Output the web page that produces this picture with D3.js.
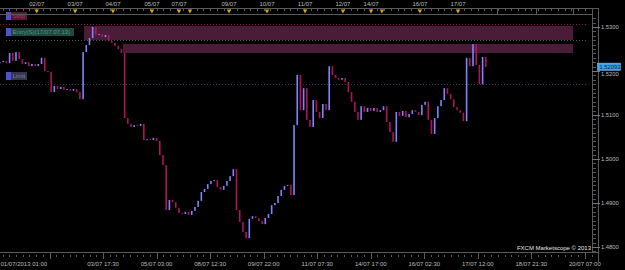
<!DOCTYPE html>
<html>
<head>
<meta charset="utf-8">
<script src="https://cdn.jsdelivr.net/npm/d3@7"></script>
<style>
	body { margin: 0; background: #000; }
	svg { display: block; }
	text { font-family: "Liberation Sans", Arial, sans-serif; }
</style>
</head>
<body>
<svg id="chart"></svg>
<script>
// 2 hour closes, starting 01/07/2013 01:00 (trading hours, weekends skipped)
const barHours = 2;
const closes = [
	1.5220, 1.5223, 1.5218, 1.5241, 1.5223, 1.5243, 1.5227, 1.5216, 1.5220, 1.5211,
	1.5216, 1.5211, 1.5216, 1.5230, 1.5200, 1.5198, 1.5152, 1.5166, 1.5159, 1.5164,
	1.5157, 1.5159, 1.5155, 1.5159, 1.5152, 1.5136, 1.5243, 1.5259, 1.5275, 1.5300,
	1.5282, 1.5284, 1.5277, 1.5282, 1.5268, 1.5264, 1.5257, 1.5250, 1.5241, 1.5093,
	1.5080, 1.5073, 1.5077, 1.5075, 1.5080, 1.5043, 1.5045, 1.5043, 1.5048, 1.5041,
	1.5009, 1.4986, 1.4884, 1.4907, 1.4902, 1.4889, 1.4877, 1.4875, 1.4880, 1.4873,
	1.4882, 1.4891, 1.4905, 1.4925, 1.4932, 1.4943, 1.4950, 1.4952, 1.4936, 1.4930,
	1.4939, 1.4950, 1.4961, 1.4977, 1.4884, 1.4857, 1.4834, 1.4820, 1.4864, 1.4870,
	1.4866, 1.4859, 1.4852, 1.4866, 1.4875, 1.4895, 1.4900, 1.4916, 1.4930, 1.4939,
	1.4941, 1.4918, 1.5077, 1.5191, 1.5111, 1.5161, 1.5089, 1.5073, 1.5134, 1.5107,
	1.5093, 1.5125, 1.5111, 1.5211, 1.5191, 1.5184, 1.5180, 1.5184, 1.5175, 1.5152,
	1.5130, 1.5107, 1.5089, 1.5120, 1.5107, 1.5116, 1.5109, 1.5116, 1.5107, 1.5111,
	1.5120, 1.5084, 1.5061, 1.5039, 1.5107, 1.5098, 1.5109, 1.5095, 1.5102, 1.5111,
	1.5107, 1.5100, 1.5123, 1.5130, 1.5089, 1.5057, 1.5093, 1.5120, 1.5134, 1.5161,
	1.5148, 1.5136, 1.5118, 1.5111, 1.5105, 1.5086, 1.5230, 1.5211, 1.5261, 1.5214,
	1.5170, 1.5232, 1.52093
];
const lastPrice = 1.52093;

const priceTicks = [1.48, 1.49, 1.50, 1.51, 1.52, 1.53];

const bottomLabels = ["01/07/2013 01:00", "03/07 17:30", "05/07 03:00", "08/07 12:30", "09/07 22:00",
	"11/07 07:30", "14/07 17:00", "16/07 02:30", "17/07 12:00", "18/07 21:30", "20/07 07:00"];
const bottomHours = [0, 64.5, 98, 131.5, 165, 198.5, 232, 265.5, 299, 332.5, 366];
const majorHours = [31, 64.5, 98, 131.5, 165, 198.5, 232, 265.5, 299, 332.5, 366];

const topLabels = ["02/07", "03/07", "04/07", "05/07", "07/07", "09/07", "10/07", "11/07", "12/07", "14/07", "16/07", "17/07"];
const topHours = [23, 47, 70.7, 95.1, 112, 143.3, 167.1, 190.9, 214.6, 232.2, 262.8, 286.6];
const eventHours = [118.9, 239];
const dayTickHours = [311, 335.4, 358.6];

// orders
const orderNames = ["Stop", "Entry(S)(17/07 07:13)", "Limit"];
const orderPrices = [1.53068, 1.52705, 1.51705];
const orderFill = ["#4e1a34", "#1d4a40", "#36364f"];
const orderText = ["#b8385a", "#55937a", "#8080a0"];
const orderLine = ["#8a1f32", "#2d6150", "#3c3c55"];
const orderBoxW = [16, 63, 16];

// shaded zones
const zoneStart = [52.6, 77];
const zoneEnd = 358.6;
const zoneHigh = [1.53023, 1.52614];
const zoneLow = [1.52705, 1.52409];

const W = 625, H = 270;
const plotR = 592, plotT = 14, plotB = 252;

const svg = d3.select("#chart").attr("width", W).attr("height", H);
svg.append("rect").attr("width", W).attr("height", H).attr("fill", "#000");

const x = d3.scaleLinear().domain([0, plotR / 1.598]).range([0, plotR]);
const y = d3.scaleLinear().domain([1.478864, 1.532955]).range([plotB, plotT]);

svg.append("clipPath").attr("id", "plotClip")
	.append("rect").attr("x", 0).attr("y", plotT).attr("width", plotR).attr("height", plotB - plotT);

const g = svg.append("g").attr("clip-path", "url(#plotClip)");

//zones
zoneStart.forEach((s, i) =>
{
	g.append("rect")
		.attr("x", x(s))
		.attr("y", y(zoneHigh[i]))
		.attr("width", x(zoneEnd) - x(s))
		.attr("height", y(zoneLow[i]) - y(zoneHigh[i]))
		.attr("fill", "#4b1c38");
});

//order lines
orderPrices.forEach((p, i) =>
{
	g.append("line")
		.attr("x1", i == 1 ? 6 : 0).attr("x2", 588)
		.attr("y1", Math.round(y(p)) + 0.5).attr("y2", Math.round(y(p)) + 0.5)
		.attr("stroke", orderLine[i])
		.attr("stroke-dasharray", "1,2");
});

//candles
closes.forEach((c, i) =>
{
	let o = i ? closes[i - 1] : c;
	let top = y(Math.max(o, c)), bot = y(Math.min(o, c));
	g.append("rect")
		.attr("x", x(i * barHours) - 0.8)
		.attr("y", top)
		.attr("width", 1.6)
		.attr("height", Math.max(1, bot - top))
		.attr("fill", c >= o ? "#8282ff" : "#b0125c");
});

//order labels
orderPrices.forEach((p, i) =>
{
	let by = Math.round(y(p)) - 12;
	svg.append("rect").attr("x", 6).attr("y", by).attr("width", 5).attr("height", 8).attr("fill", "#4f4fd8");
	svg.append("rect").attr("x", 11).attr("y", by).attr("width", orderBoxW[i]).attr("height", 8).attr("fill", orderFill[i]);
	svg.append("text")
		.attr("x", 12.5).attr("y", by + 6.3)
		.attr("font-size", 6)
		.attr("fill", orderText[i])
		.text(orderNames[i]);
});

const axisCol = "#5a5a5a";
const labelCol = "#bdbdbd";
const minorHours = d3.range(31 - 33.5, 371, 33.5 / 8);

//top axis
svg.append("line").attr("x1", 0).attr("x2", 598).attr("y1", 8.5).attr("y2", 8.5).attr("stroke", axisCol);
svg.append("line").attr("x1", 0).attr("x2", plotR).attr("y1", 14.5).attr("y2", 14.5).attr("stroke", axisCol);
svg.selectAll(".tminor").data(minorHours.filter(h => x(h) >= 0 && x(h) <= plotR)).enter()
	.append("line")
	.attr("x1", h => Math.round(x(h)) + 0.5).attr("x2", h => Math.round(x(h)) + 0.5)
	.attr("y1", 9).attr("y2", 11)
	.attr("stroke", axisCol);
svg.selectAll(".tday").data(dayTickHours).enter()
	.append("line")
	.attr("x1", h => Math.round(x(h)) + 0.5).attr("x2", h => Math.round(x(h)) + 0.5)
	.attr("y1", 9).attr("y2", 14)
	.attr("stroke", axisCol);
svg.selectAll(".tlab").data(topLabels).enter()
	.append("text")
	.attr("x", (d, i) => x(topHours[i]))
	.attr("y", 6)
	.attr("text-anchor", "middle")
	.attr("font-size", 6)
	.attr("fill", labelCol)
	.text(d => d);
svg.selectAll(".tri").data(topHours.concat(eventHours)).enter()
	.append("path")
	.attr("d", h => "M" + (x(h) - 2.2) + ",9.5 L" + (x(h) + 2.2) + ",9.5 L" + x(h) + ",13.5 Z")
	.attr("fill", "#e0a30f");

//bottom axis
svg.append("line").attr("x1", 0).attr("x2", 598).attr("y1", plotB + 0.5).attr("y2", plotB + 0.5).attr("stroke", axisCol);
svg.selectAll(".bminor").data(minorHours.filter(h => x(h) >= 0 && x(h) <= plotR)).enter()
	.append("line")
	.attr("x1", h => Math.round(x(h)) + 0.5).attr("x2", h => Math.round(x(h)) + 0.5)
	.attr("y1", plotB + 3).attr("y2", plotB + 5)
	.attr("stroke", axisCol);
svg.selectAll(".bmajor").data(majorHours).enter()
	.append("line")
	.attr("x1", h => Math.round(x(h)) + 0.5).attr("x2", h => Math.round(x(h)) + 0.5)
	.attr("y1", plotB).attr("y2", plotB + 7)
	.attr("stroke", axisCol);
svg.selectAll(".blab").data(bottomLabels).enter()
	.append("text")
	.attr("x", (d, i) => i == 0 ? 0.5 : x(bottomHours[i]))
	.attr("y", 266)
	.attr("text-anchor", (d, i) => i == 0 ? "start" : "middle")
	.attr("font-size", 6)
	.attr("fill", labelCol)
	.text(d => d);

//right axis
svg.append("line").attr("x1", plotR + 0.5).attr("x2", plotR + 0.5).attr("y1", 8).attr("y2", plotB + 1).attr("stroke", axisCol);
svg.append("line").attr("x1", 598.5).attr("x2", 598.5).attr("y1", 8).attr("y2", 262).attr("stroke", axisCol);
svg.selectAll(".yminor").data(d3.range(1.479, 1.5325, 0.001)).enter()
	.append("line")
	.attr("x1", plotR).attr("x2", 596)
	.attr("y1", v => Math.round(y(v)) + 0.5).attr("y2", v => Math.round(y(v)) + 0.5)
	.attr("stroke", axisCol);
svg.selectAll(".ymajor").data(priceTicks).enter()
	.append("line")
	.attr("x1", plotR).attr("x2", 600)
	.attr("y1", v => Math.round(y(v)) + 0.5).attr("y2", v => Math.round(y(v)) + 0.5)
	.attr("stroke", "#777");
// the 1.5200 label sits just under the current price box
svg.selectAll(".ylab").data(priceTicks).enter()
	.append("text")
	.attr("x", 601)
	.attr("y", v => y(v) + (v == 1.52 ? 4.6 : 2))
	.attr("font-size", 5.8)
	.attr("fill", labelCol)
	.text(v => d3.format(".4f")(v));

//current price
svg.append("rect")
	.attr("x", 597.5).attr("y", y(lastPrice) - 3.8)
	.attr("width", 23).attr("height", 7.2)
	.attr("fill", "#3fa2ea")
	.attr("stroke", "#8fd0ff")
	.attr("stroke-width", 0.5);
svg.append("text")
	.attr("x", 599.5).attr("y", y(lastPrice) + 2.2)
	.attr("font-size", 5.8)
	.attr("fill", "#0a1a3a")
	.text(d3.format(".5f")(lastPrice));

svg.append("text")
	.attr("x", 591).attr("y", 250)
	.attr("text-anchor", "end")
	.attr("font-size", 6)
	.attr("fill", "#e6e6e6")
	.text("FXCM Marketscope \u00a9 2013");
</script>
</body>
</html>
